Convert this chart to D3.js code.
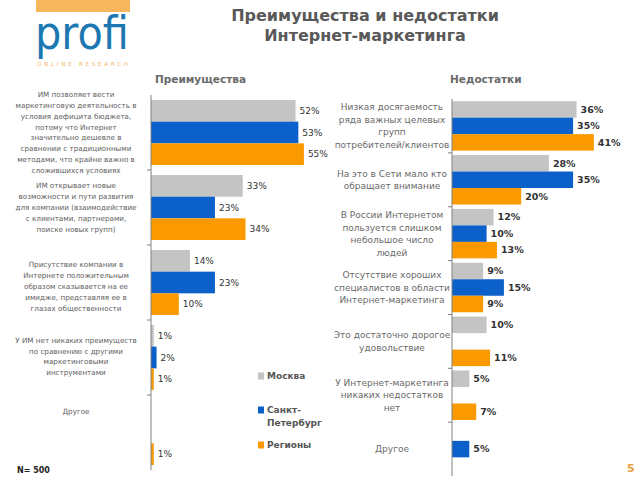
<!DOCTYPE html>
<html><head><meta charset="utf-8">
<script src="https://cdn.jsdelivr.net/npm/d3@7"></script>
<style>
html,body{margin:0;padding:0;background:#fff;}
svg{display:block;}
text{font-family:"DejaVu Sans",Verdana,sans-serif;}
</style></head>
<body>
<svg id="chart" width="640" height="480"></svg>
<script>
// ---------- DATA ----------
const series = ["Москва", "Санкт-Петербург", "Регионы"];
const seriesLegend = [["Москва"], ["Санкт-", "Петербург"], ["Регионы"]];

const advCategories = [
  ["ИМ позволяет вести", "маркетинговую деятельность в", "условия дефицита бюджета,", "потому что Интернет", "значительно дешевле в", "сравнении с традиционными", "методами, что крайне важно в", "сложившихся условиях"],
  ["ИМ открывает новые", "возможности и пути развития", "для компании (взаимодействие", "с клиентами, партнерами,", "поиске новых групп)"],
  ["Присутствие компании в", "Интернете положительным", "образом сказывается на ее", "имидже, представляя ее в", "глазах общественности"],
  ["У ИМ нет никаких преимуществ", "по сравнению с другими", "маркетинговыми", "инструментами"],
  ["Другое"]
];
const advMoscow  = [52, 33, 14, 1, 0];
const advSpb     = [53, 23, 23, 2, 0];
const advRegions = [55, 34, 10, 1, 1];

const disCategories = [
  ["Низкая досягаемость", "ряда важных целевых", "групп", "потребителей/клиентов"],
  ["На это в Сети мало кто", "обращает внимание"],
  ["В России Интернетом", "пользуется слишком", "небольшое число", "людей"],
  ["Отсутствие хороших", "специалистов в области", "Интернет-маркетинга"],
  ["Это достаточно дорогое", "удовольствие"],
  ["У Интернет-маркетинга", "никаких недостатков", "нет"],
  ["Другое"]
];
const disMoscow  = [36, 28, 12, 9, 10, 5, 0];
const disSpb     = [35, 35, 10, 15, 0, 0, 5];
const disRegions = [41, 20, 13, 9, 11, 7, 0];

const titleLines = ["Преимущества и недостатки", "Интернет-маркетинга"];
const panelTitles = ["Преимущества", "Недостатки"];
const sampleNote = "N= 500";
const pageNumber = "5";

// ---------- LAYOUT ----------
const colors = ["#c4c4c4", "#0b60c9", "#fb9a00"];
const svg = d3.select("#chart");

// Logo
svg.append("rect").attr("x", 36).attr("y", 0).attr("width", 94).attr("height", 12).attr("fill", "#f6b65c");
svg.append("text").attr("x", 35).attr("y", 49).attr("font-family", "Lato, 'Open Sans', sans-serif")
  .attr("font-weight", 400).attr("font-size", 46).attr("fill", "#1d78b2")
  .attr("textLength", 94).attr("lengthAdjust", "spacingAndGlyphs").text("profi");
svg.append("text").attr("x", 37).attr("y", 66).attr("font-size", 5.5).attr("fill", "#f2b25e")
  .attr("textLength", 91).attr("lengthAdjust", "spacing").text("ONLINE RESEARCH");

// Title
svg.selectAll("text.title").data(titleLines).join("text").attr("class", "title")
  .attr("x", 365).attr("y", (d, i) => 21 + i * 20).attr("text-anchor", "middle")
  .attr("font-weight", "bold").attr("font-size", 16).attr("fill", "#595959").text(d => d);

// Panel titles
svg.append("text").attr("x", 155).attr("y", 83).attr("font-weight", "bold").attr("font-size", 10.5).attr("fill", "#6a6a6a").text(panelTitles[0]);
svg.append("text").attr("x", 450).attr("y", 83).attr("font-weight", "bold").attr("font-size", 10.5).attr("fill", "#6a6a6a").text(panelTitles[1]);

function drawPanel(opts) {
  const {cats, vals, x0, pxPerPct, yRange, padInner, padOuter, labelX, labelSize, lineH, labelShift, valSize, valWeight, labelColor} = opts;
  const n = cats.length;
  const y = d3.scaleBand().domain(d3.range(n)).range(yRange).paddingInner(padInner).paddingOuter(padOuter);
  const ys = d3.scaleBand().domain(d3.range(3)).range([0, y.bandwidth()]);
  const x = d3.scaleLinear().domain([0, 100]).range([x0, x0 + 100 * pxPerPct]);
  const g = svg.append("g");

  const rows = [];
  for (let c = 0; c < n; c++) for (let s = 0; s < 3; s++) rows.push({c, s, v: vals[s][c]});
  const present = rows.filter(r => r.v > 0);

  g.selectAll("rect.bar").data(present).join("rect").attr("class", "bar")
    .attr("x", x(0)).attr("y", d => y(d.c) + ys(d.s))
    .attr("width", d => x(d.v) - x(0)).attr("height", ys.bandwidth())
    .attr("fill", d => colors[d.s]);

  g.selectAll("text.val").data(present).join("text").attr("class", "val")
    .attr("x", d => x(d.v) + 4).attr("y", d => y(d.c) + ys(d.s) + ys.bandwidth() / 2)
    .attr("dy", "0.35em").attr("font-size", valSize).attr("font-weight", valWeight)
    .attr("fill", "#333").text(d => d.v + "%");

  // axis line + ticks
  const step = y.step();
  const top = yRange[0], bottom = yRange[1];
  g.append("line").attr("x1", x(0)).attr("x2", x(0)).attr("y1", top).attr("y2", bottom)
    .attr("stroke", "#808080").attr("stroke-width", 1);
  g.selectAll("line.tick").data(d3.range(1, n)).join("line").attr("class", "tick")
    .attr("x1", x(0) - 4).attr("x2", x(0)).attr("y1", d => top + d * step).attr("y2", d => top + d * step)
    .attr("stroke", "#808080");

  // category labels
  cats.forEach((lines, c) => {
    const cy = y(c) - y.step() * y.paddingInner() / 2 + step / 2 + (labelShift ? labelShift[c] : 0);
    const t = g.append("text").attr("text-anchor", "middle").attr("font-size", labelSize).attr("fill", labelColor);
    lines.forEach((ln, i) => {
      t.append("tspan").attr("x", labelX).attr("y", cy + (i - (lines.length - 1) / 2) * lineH).attr("dy", "0.35em").text(ln);
    });
  });
}

drawPanel({
  cats: advCategories, vals: [advMoscow, advSpb, advRegions],
  x0: 151, pxPerPct: 2.78, yRange: [95, 470], padInner: 0.1333, padOuter: 0.0667,
  labelX: 76, labelSize: 7.2, lineH: 10.8, labelShift: [0, 0, 4, -1, -21],
  valSize: 9, valWeight: "normal", labelColor: "#606060"
});

drawPanel({
  cats: disCategories, vals: [disMoscow, disSpb, disRegions],
  x0: 452, pxPerPct: 3.46, yRange: [99, 476], padInner: 0.081, padOuter: 0.04,
  labelX: 392, labelSize: 9, lineH: 12.5, labelShift: null,
  valSize: 9.5, valWeight: "bold", labelColor: "#6a6a6a"
});

// Legend
const legendY = [376, 410, 445];
const lg = svg.append("g");
seriesLegend.forEach((lines, i) => {
  lg.append("rect").attr("x", 258).attr("y", legendY[i] - 3.5).attr("width", 6).attr("height", 7).attr("fill", colors[i]);
  const t = lg.append("text").attr("font-size", 9).attr("font-weight", "bold").attr("fill", "#555");
  lines.forEach((ln, j) => t.append("tspan").attr("x", 267).attr("y", legendY[i] + j * 13).attr("dy", "0.35em").text(ln));
});

// Notes
svg.append("text").attr("x", 17).attr("y", 470).attr("dy", "0.35em").attr("font-size", 8).attr("font-weight", "bold").attr("fill", "#222").text(sampleNote);
svg.append("text").attr("x", 627).attr("y", 468).attr("dy", "0.35em").attr("font-size", 11).attr("font-weight", "bold").attr("fill", "#e9a040").text(pageNumber);
</script>
</body></html>
